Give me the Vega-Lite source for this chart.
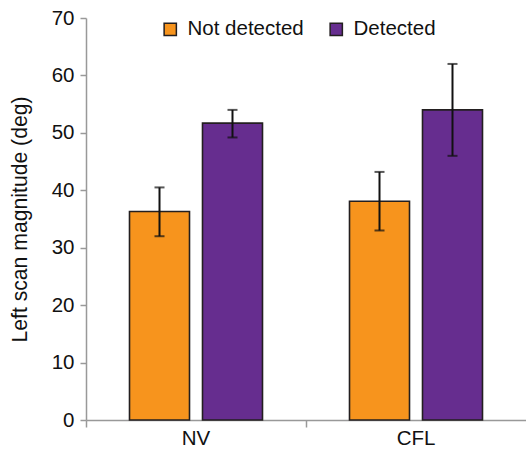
{
  "$schema": "https://vega.github.io/schema/vega-lite/v6.json",
  "width": 440,
  "height": 402,
  "autosize": "none",
  "padding": {"left": 86, "top": 18, "right": 0, "bottom": 30},
  "config": {
    "font": "Liberation Sans",
    "view": {"stroke": null},
    "axis": {"labelFont": "Liberation Sans", "titleFont": "Liberation Sans", "labelColor": "#111111", "titleColor": "#111111", "domainColor": "#999999", "tickColor": "#999999", "domainWidth": 1.5, "tickWidth": 1.5, "grid": false}
  },
  "data": {
    "values": [
      {"group": "NV", "condition": "Not detected", "mean": 36.3, "lo": 32.0, "hi": 40.5},
      {"group": "NV", "condition": "Detected", "mean": 51.7, "lo": 49.2, "hi": 54.0},
      {"group": "CFL", "condition": "Not detected", "mean": 38.1, "lo": 33.0, "hi": 43.2},
      {"group": "CFL", "condition": "Detected", "mean": 54.0, "lo": 46.0, "hi": 62.0}
    ]
  },
  "layer": [
    {
      "mark": {"type": "bar", "stroke": "#231F20", "strokeWidth": 1.6},
      "encoding": {
        "x": {"field": "group", "type": "nominal", "sort": ["NV", "CFL"], "scale": {"paddingInner": 0, "paddingOuter": 0},
          "axis": {"title": null, "orient": "bottom", "ticks": false, "labelAngle": 0, "labelFontSize": 20.5, "labelPadding": 8}},
        "xOffset": {"field": "condition", "type": "nominal", "sort": ["Not detected", "Detected"], "scale": {"paddingInner": 0.178, "paddingOuter": 0.596}},
        "y": {"field": "mean", "type": "quantitative", "scale": {"domain": [0, 70], "nice": false},
          "axis": {"title": "Left scan magnitude (deg)", "titleFontSize": 21.2, "titleFontWeight": "normal", "titlePadding": 21, "labelFontSize": 20.5, "values": [0,10,20,30,40,50,60,70], "tickSize": 6, "labelPadding": 6}},
        "color": {"field": "condition", "type": "nominal",
          "scale": {"domain": ["Not detected", "Detected"], "range": ["#F7941D", "#662D8F"]},
          "legend": {"title": null, "orient": "none", "direction": "horizontal", "legendX": 74, "legendY": 1, "symbolType": "square", "symbolSize": 150, "symbolStrokeColor": "#231F20", "symbolStrokeWidth": 1.5, "symbolOpacity": 1, "labelFontSize": 20.5, "labelColor": "#111111", "labelOffset": 7, "columnPadding": 22, "padding": 0}}
      }
    },
    {
      "mark": {"type": "rule", "color": "#111111", "strokeWidth": 2},
      "encoding": {
        "x": {"field": "group", "type": "nominal", "sort": ["NV", "CFL"], "scale": {"paddingInner": 0, "paddingOuter": 0},
          "axis": {"title": null, "orient": "bottom", "bandPosition": 0, "labels": false, "domain": false, "ticks": true, "tickSize": 7}},
        "xOffset": {"field": "condition", "type": "nominal", "sort": ["Not detected", "Detected"]},
        "y": {"field": "lo", "type": "quantitative",
          "axis": {"title": "Left scan magnitude (deg)", "titleFontSize": 21.2, "titleFontWeight": "normal", "titlePadding": 21, "labelFontSize": 20.5, "values": [0,10,20,30,40,50,60,70], "tickSize": 6, "labelPadding": 6}},
        "y2": {"field": "hi"}
      }
    },
    {
      "mark": {"type": "tick", "color": "#111111", "thickness": 2, "size": 10},
      "encoding": {
        "x": {"field": "group", "type": "nominal", "sort": ["NV", "CFL"], "axis": null},
        "xOffset": {"field": "condition", "type": "nominal", "sort": ["Not detected", "Detected"]},
        "y": {"field": "lo", "type": "quantitative",
          "axis": {"title": "Left scan magnitude (deg)", "titleFontSize": 21.2, "titleFontWeight": "normal", "titlePadding": 21, "labelFontSize": 20.5, "values": [0,10,20,30,40,50,60,70], "tickSize": 6, "labelPadding": 6}}
      }
    },
    {
      "mark": {"type": "tick", "color": "#111111", "thickness": 2, "size": 10},
      "encoding": {
        "x": {"field": "group", "type": "nominal", "sort": ["NV", "CFL"], "axis": null},
        "xOffset": {"field": "condition", "type": "nominal", "sort": ["Not detected", "Detected"]},
        "y": {"field": "hi", "type": "quantitative",
          "axis": {"title": "Left scan magnitude (deg)", "titleFontSize": 21.2, "titleFontWeight": "normal", "titlePadding": 21, "labelFontSize": 20.5, "values": [0,10,20,30,40,50,60,70], "tickSize": 6, "labelPadding": 6}}
      }
    }
  ],
  "resolve": {"axis": {"x": "independent"}}
}
